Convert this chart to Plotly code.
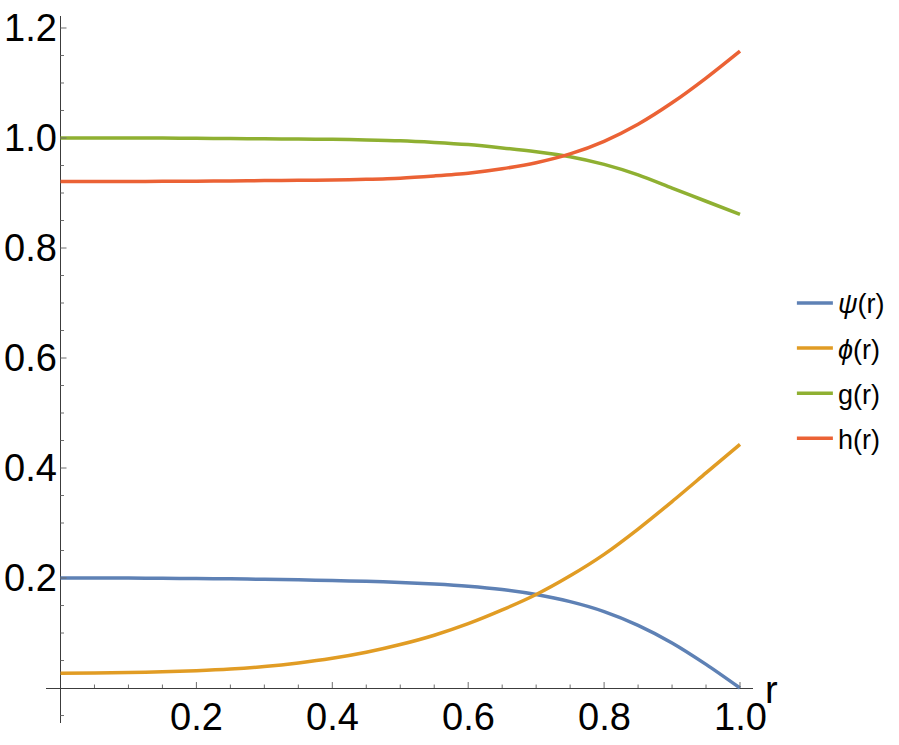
import plotly.graph_objects as go

# sample points along r
r = [0.0, 0.05, 0.1, 0.15, 0.2, 0.25, 0.3, 0.35, 0.4, 0.45, 0.5,
     0.55, 0.6, 0.65, 0.7, 0.75, 0.8, 0.85, 0.9, 0.95, 1.0]

psi = [0.200, 0.200, 0.1998, 0.1995, 0.1991, 0.1985, 0.1977, 0.1967, 0.1955, 0.194, 0.192,
       0.189, 0.185, 0.179, 0.170, 0.157, 0.139, 0.114, 0.082, 0.043, 0.0]
phi = [0.027, 0.0273, 0.028, 0.0295, 0.0315, 0.0345, 0.039, 0.0455, 0.054, 0.065, 0.079,
       0.096, 0.117, 0.142, 0.170, 0.204, 0.243, 0.289, 0.339, 0.391, 0.443]
g = [1.000, 1.000, 1.000, 0.9998, 0.9995, 0.999, 0.9985, 0.998, 0.9975, 0.9965, 0.995,
     0.992, 0.988, 0.982, 0.975, 0.966, 0.952, 0.933, 0.909, 0.885, 0.861]
h = [0.921, 0.921, 0.921, 0.9212, 0.9215, 0.922, 0.9225, 0.923, 0.9237, 0.925, 0.927,
     0.931, 0.936, 0.944, 0.955, 0.971, 0.994, 1.025, 1.064, 1.109, 1.158]

names = ["<i>ψ</i>(r)", "<i>ϕ</i>(r)", "g(r)", "h(r)"]
colors = ["#5E81B5", "#E19C24", "#8FB032", "#EB6235"]

x_major = [0.2, 0.4, 0.6, 0.8, 1.0]
x_labels = ["0.2", "0.4", "0.6", "0.8", "1.0"]
y_major = [0.2, 0.4, 0.6, 0.8, 1.0, 1.2]
y_labels = ["0.2", "0.4", "0.6", "0.8", "1.0", "1.2"]
x_minor = [round(0.05 * i, 2) for i in range(1, 21) if i % 4 != 0]
y_minor = [round(0.05 * i, 2) for i in range(-1, 25) if i % 4 != 0 and i != 0]

fig = go.Figure()
for i, (ys, name, col) in enumerate(zip([psi, phi, g, h], names, colors)):
    fig.add_trace(go.Scatter(
        x=r, y=ys, mode="lines", name=name, legendgroup=str(i),
        line=dict(color=col, width=3.5, shape="spline", smoothing=0.8),
    ))

tick_col = "rgb(110,110,110)"
shapes = []
# x-axis ticks (pointing up)
for v in x_major + x_minor:
    ln = 6 if v in x_major else 3.5
    shapes.append(dict(type="line", xref="x", yref="y", ysizemode="pixel", yanchor=0,
                       x0=v, x1=v, y0=0, y1=ln, line=dict(color=tick_col, width=1)))
# y-axis ticks (pointing right)
for v in y_major + y_minor:
    ln = 6 if v in y_major else 3.5
    shapes.append(dict(type="line", xref="x", yref="y", xsizemode="pixel", xanchor=0,
                       x0=0, x1=ln, y0=v, y1=v, line=dict(color=tick_col, width=1)))

annotations = []
for v, t in zip(x_major, x_labels):
    annotations.append(dict(x=v, y=0, xref="x", yref="y", text=t, showarrow=False,
                            xanchor="center", yanchor="top", yshift=-6,
                            font=dict(size=38, color="black")))
for v, t in zip(y_major, y_labels):
    annotations.append(dict(x=0, y=v, xref="x", yref="y", text=t, showarrow=False,
                            xanchor="right", yanchor="middle", xshift=-2,
                            font=dict(size=38, color="black")))
annotations.append(dict(x=1, y=0, xref="paper", yref="y", text="r", showarrow=False,
                        xanchor="left", yanchor="middle", xshift=10, yshift=-2,
                        font=dict(size=38, color="black")))

fig.update_layout(
    width=899, height=745,
    margin=dict(l=46, r=146, t=16, b=22, autoexpand=False),
    paper_bgcolor="white", plot_bgcolor="white",
    font=dict(family="Liberation Sans, Arial", color="black"),
    xaxis=dict(range=[-0.02134, 1.01913], showgrid=False, showticklabels=False,
               ticks="", zeroline=True, zerolinecolor="rgb(60,60,60)", zerolinewidth=1,
               showline=False),
    yaxis=dict(range=[-0.0636, 1.2218], showgrid=False, showticklabels=False,
               ticks="", zeroline=True, zerolinecolor="rgb(60,60,60)", zerolinewidth=1,
               showline=False),
    legend=dict(x=1.055, xanchor="left", y=0.498, yanchor="middle",
                font=dict(size=27, color="black"), tracegroupgap=7, itemwidth=36,
                bgcolor="rgba(0,0,0,0)"),
    shapes=shapes,
    annotations=annotations,
)

# drop the browser's default body margin so the figure sits at the page corner
fig.write_html("out.html", config={"displayModeBar": False},
               post_script="document.body.style.margin='0px';")
